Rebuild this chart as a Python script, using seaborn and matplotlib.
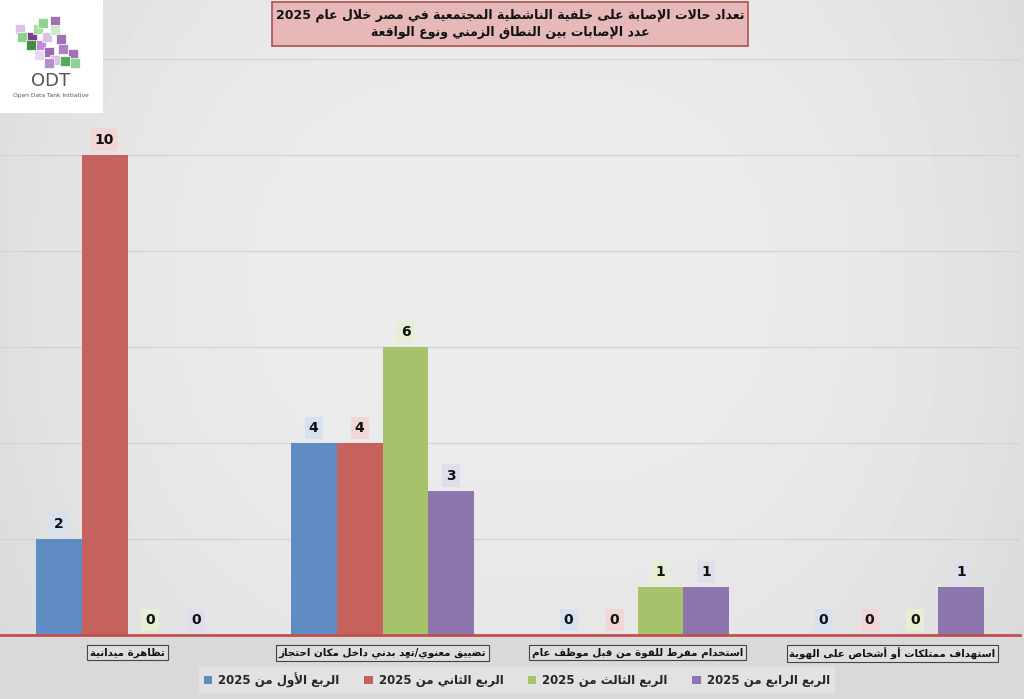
import re

import matplotlib
matplotlib.use("Agg")
import matplotlib.pyplot as plt
import numpy as np
import pandas as pd
import seaborn as sns
from matplotlib.patches import Rectangle


# --- data ---
categories = [
    "تظاهرة ميدانية",
    "تضييق معنوي/تعدٍ بدني داخل مكان احتجاز",
    "استخدام مفرط للقوة من قبل موظف عام",
    "استهداف ممتلكات أو أشخاص على الهوية",
]
series_names = [
    "الربع الأول من 2025",
    "الربع الثاني من 2025",
    "الربع الثالث من 2025",
    "الربع الرابع من 2025",
]
q1_values = [2, 4, 0, 0]
q2_values = [10, 4, 0, 0]
q3_values = [0, 6, 1, 0]
q4_values = [0, 3, 1, 1]

title_line1 = "تعداد حالات الإصابة على خلفية الناشطية المجتمعية في مصر خلال عام 2025"
title_line2 = "عدد الإصابات بين النطاق الزمني ونوع الواقعة"

bar_colors = ["#5f8dc3", "#c5625d", "#a6c36b", "#8d75ad"]
label_bg = ["#d6e2f1", "#f1d6d5", "#e6efd3", "#e2dcec"]


# --- minimal arabic shaping (matplotlib draws glyphs left to right, unshaped) ---
FORMS = {
    "ء": 0xFE80, "آ": 0xFE81, "أ": 0xFE83, "ؤ": 0xFE85, "إ": 0xFE87, "ئ": 0xFE89,
    "ا": 0xFE8D, "ب": 0xFE8F, "ة": 0xFE93, "ت": 0xFE95, "ث": 0xFE99, "ج": 0xFE9D,
    "ح": 0xFEA1, "خ": 0xFEA5, "د": 0xFEA9, "ذ": 0xFEAB, "ر": 0xFEAD, "ز": 0xFEAF,
    "س": 0xFEB1, "ش": 0xFEB5, "ص": 0xFEB9, "ض": 0xFEBD, "ط": 0xFEC1, "ظ": 0xFEC5,
    "ع": 0xFEC9, "غ": 0xFECD, "ف": 0xFED1, "ق": 0xFED5, "ك": 0xFED9, "ل": 0xFEDD,
    "م": 0xFEE1, "ن": 0xFEE5, "ه": 0xFEE9, "و": 0xFEED, "ى": 0xFEEF, "ي": 0xFEF1,
}
DUAL = set("ئبتثجحخسشصضطظعغفقكلمنهي")
LAM_ALEF = {"آ": 0xFEF5, "أ": 0xFEF7, "إ": 0xFEF9, "ا": 0xFEFB}


def links_next(b):
    return b in DUAL


def links_prev(b):
    return (b in FORMS and b != "ء") or b.startswith("LA")


def ar(text):
    clusters = []
    for ch in text:
        if "\u064B" <= ch <= "\u0652" and clusters:
            clusters[-1][1] += ch
        else:
            clusters.append([ch, ""])
    merged = []
    i = 0
    while i < len(clusters):
        b, m = clusters[i]
        if b == "ل" and i + 1 < len(clusters) and clusters[i + 1][0] in LAM_ALEF:
            merged.append(["LA" + clusters[i + 1][0], m + clusters[i + 1][1]])
            i += 2
        else:
            merged.append([b, m])
            i += 1
    out = []
    n = len(merged)
    for i, (b, m) in enumerate(merged):
        p = i > 0 and links_next(merged[i - 1][0]) and links_prev(b)
        nx = i < n - 1 and links_next(b) and links_prev(merged[i + 1][0])
        if b.startswith("LA"):
            g = chr(LAM_ALEF[b[2]] + (1 if p else 0))
        elif b in DUAL:
            g = chr(FORMS[b] + {(False, False): 0, (True, False): 1,
                                (False, True): 2, (True, True): 3}[(p, nx)])
        elif b in FORMS:
            g = chr(FORMS[b] + (1 if (p and b != "ء") else 0))
        else:
            g = b
        out.append(g + m)
    s = "".join(out[::-1])
    return re.sub(r"[0-9]+", lambda mm: mm.group()[::-1], s)


# --- long table for seaborn ---
rows = []
for name, vals in zip(series_names, [q1_values, q2_values, q3_values, q4_values]):
    for cat, v in zip(categories, vals):
        rows.append({"cat": ar(cat), "series": ar(name), "value": v})
df = pd.DataFrame(rows)

sns.set_theme(style="white")
plt.rcParams["font.family"] = ["DejaVu Sans"]

W, H = 1024, 699
fig = plt.figure(figsize=(W / 100, H / 100), dpi=100)

# background gradient
bg = fig.add_axes([0, 0, 1, 1], zorder=-10)
xx = np.linspace(-1, 1, 200)
yy = np.linspace(-1, 1, 140)
X, Y = np.meshgrid(xx, yy)
shade = 0.925 - 0.05 * (X ** 2) ** 1.5 - 0.02 * (Y + 0.2) ** 2
bg.imshow(shade, cmap="gray", vmin=0, vmax=1, aspect="auto", extent=[0, 1, 0, 1])
bg.add_patch(Rectangle((0, 0), 1, 62 / H, color="#d9d9d9", zorder=2))
# title box
bg.add_patch(Rectangle((272 / W, 1 - 46 / H), 476 / W, 44 / H, facecolor="#e6b9b8",
                       edgecolor="#b0504c", linewidth=1.2, zorder=3))
bg.set_xlim(0, 1)
bg.set_ylim(0, 1)
bg.axis("off")

ax = fig.add_axes([0.0, 64 / H, 1020 / W, 576 / H])
ax.set_facecolor("none")
sns.barplot(
    data=df, x="cat", y="value", hue="series",
    order=[ar(c) for c in categories],
    hue_order=[ar(s) for s in series_names],
    palette=bar_colors, width=0.72, gap=0, saturation=1,
    edgecolor="none", ax=ax, errorbar=None,
)
ax.set_ylim(0, 12)
ax.set_xlim(-0.5, 3.5)
ax.set_yticks(np.arange(0, 13, 2))
ax.yaxis.grid(True, color="#d3d3d3", linewidth=1)
ax.set_axisbelow(True)
ax.tick_params(axis="y", left=False, labelleft=False)
ax.tick_params(axis="x", length=0, pad=9)
for s in ["top", "right", "left"]:
    ax.spines[s].set_visible(False)
ax.spines["bottom"].set_color("#c0504d")
ax.spines["bottom"].set_linewidth(2)
ax.set_xlabel("")
ax.set_ylabel("")
for t in ax.get_xticklabels():
    t.set_fontsize(7.4)
    t.set_fontweight("bold")
    t.set_color("#111111")
    t.set_bbox(dict(boxstyle="square,pad=0.25", facecolor="#dedede",
                    edgecolor="#444444", linewidth=0.8))

for cont, bgc in zip(ax.containers, label_bg):
    ax.bar_label(cont, fmt="%d", padding=6, fontsize=10, fontweight="bold",
                 color="#111111",
                 bbox=dict(boxstyle="square,pad=0.3", facecolor=bgc, edgecolor="none"))

handles, labels = ax.get_legend_handles_labels()
ax.legend_.remove()
leg = fig.legend(handles, labels, loc="center", bbox_to_anchor=(517 / W, 19 / H),
                 ncol=4, frameon=True, fancybox=False, framealpha=1,
                 facecolor="#e2e2e2", edgecolor="none", fontsize=8.5,
                 handlelength=0.7, handleheight=0.7, handletextpad=0.5,
                 columnspacing=2.1, borderpad=0.45, borderaxespad=0)
for t in leg.get_texts():
    t.set_fontweight("bold")

# title text
fig.text(510 / W, 1 - 24 / H, ar(title_line1) + "\n" + ar(title_line2),
         ha="center", va="center", fontsize=9.0, fontweight="bold",
         color="#111111", linespacing=1.35)

# logo
lg = fig.add_axes([0, 1 - 113 / H, 103 / W, 113 / H])
lg.set_facecolor("white")
lg.set_xlim(0, 103)
lg.set_ylim(113, 0)
lg.set_xticks([])
lg.set_yticks([])
for s in lg.spines.values():
    s.set_visible(False)
cubes = [
    (15, 24, "#d9c2e6"), (17, 32, "#8fd18f"), (27, 32, "#7b3f99"), (33, 24, "#a8e0a0"),
    (26, 40, "#3f8f3f"), (36, 40, "#c28ad6"), (42, 32, "#d9c2e6"), (50, 16, "#a070b8"),
    (50, 25, "#cfeacb"), (44, 47, "#9a6bb5"), (56, 34, "#a070b8"), (58, 44, "#b07fc6"),
    (50, 55, "#d9c2e6"), (68, 49, "#a070b8"), (38, 18, "#8fd18f"), (44, 58, "#b590cc"),
    (34, 50, "#e6d6ee"), (60, 56, "#5aa85a"), (70, 58, "#8fd18f"),
]
for cx, cy, c in cubes:
    lg.add_patch(Rectangle((cx, cy), 10, 10, facecolor=c, edgecolor="white", linewidth=0.5))
lg.text(51, 81, "ODT", ha="center", va="center", fontsize=13, color="#555555")
lg.text(51, 95, "Open Data Tank Initiative", ha="center", va="center",
        fontsize=4.3, color="#555555")

fig.savefig("out.png", dpi=100, facecolor="#e6e6e6")
